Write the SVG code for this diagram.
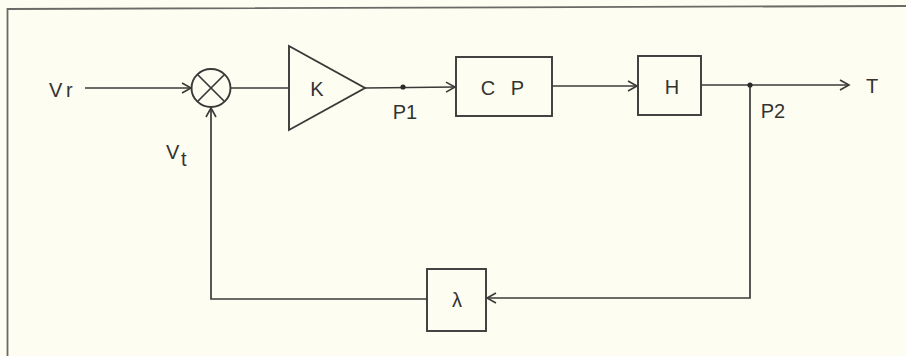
<svg xmlns="http://www.w3.org/2000/svg" width="906" height="356" viewBox="0 0 906 356">
  <style>
    .ln { fill: none; stroke: #3a3a38; stroke-width: 1.7; }
    .bx { fill: none; stroke: #3a3a38; stroke-width: 1.9; }
    .tx { font-family: "Liberation Sans Narrow", "Liberation Sans", Arial, sans-serif; font-size: 20px; fill: #333330; }
  </style>
  <defs>
    <marker id="arr" markerWidth="12" markerHeight="12" refX="10" refY="6" orient="auto" markerUnits="userSpaceOnUse">
      <path d="M1,1 L10,6 L1,11" fill="none" stroke="#3a3a38" stroke-width="1.6"/>
    </marker>
  </defs>
  <rect x="0" y="0" width="906" height="356" fill="#fdfdf2"/>
  <g id="frame">
    <path d="M7.5,356 L7.5,9 L906,6" fill="none" stroke="#6a6a66" stroke-width="1.8"/>
  </g>

  <g id="connectors">
    <line class="ln" x1="85" y1="88" x2="191" y2="88" marker-end="url(#arr)"/>
    <line class="ln" x1="231" y1="88" x2="289" y2="88"/>
    <line class="ln" x1="365" y1="88" x2="455" y2="87" marker-end="url(#arr)"/>
    <line class="ln" x1="552" y1="86" x2="637" y2="86" marker-end="url(#arr)"/>
    <line class="ln" x1="701" y1="85" x2="849" y2="85" marker-end="url(#arr)"/>
    <polyline class="ln" points="750,85 750,298 487,298" marker-end="url(#arr)"/>
    <polyline class="ln" points="427,299 211,299 211,108" marker-end="url(#arr)"/>
    <circle cx="403" cy="87" r="2.6" fill="#2a2a28"/>
    <circle cx="750" cy="85" r="2.6" fill="#2a2a28"/>
  </g>

  <g id="sum">
    <ellipse class="bx" cx="211" cy="88" rx="19.5" ry="19"/>
    <line class="ln" x1="197.5" y1="74.5" x2="224.5" y2="101.5"/>
    <line class="ln" x1="224.5" y1="74.5" x2="197.5" y2="101.5"/>
  </g>

  <g id="gainK">
    <polygon class="bx" points="289,46 365,88 289,130"/>
    <text class="tx" x="317" y="96" text-anchor="middle">K</text>
  </g>

  <g id="CP">
    <rect class="bx" x="456" y="57" width="96" height="59"/>
    <text class="tx" x="505" y="95" text-anchor="middle" letter-spacing="5">C P</text>
  </g>

  <g id="H">
    <rect class="bx" x="638" y="56" width="63" height="59"/>
    <text class="tx" x="672" y="94" text-anchor="middle">H</text>
  </g>

  <g id="lambda">
    <rect class="bx" x="427" y="269" width="59" height="62"/>
    <text class="tx" x="457" y="307" text-anchor="middle">λ</text>
  </g>

  <g id="labels">
    <text class="tx" x="49" y="97">V</text>
    <text class="tx" x="66" y="97">r</text>
    <text class="tx" x="166" y="159">V</text>
    <text class="tx" x="181" y="166">t</text>
    <text class="tx" x="405" y="119" text-anchor="middle">P1</text>
    <text class="tx" x="773" y="118" text-anchor="middle">P2</text>
    <text class="tx" x="872" y="93" text-anchor="middle">T</text>
  </g>
</svg>
